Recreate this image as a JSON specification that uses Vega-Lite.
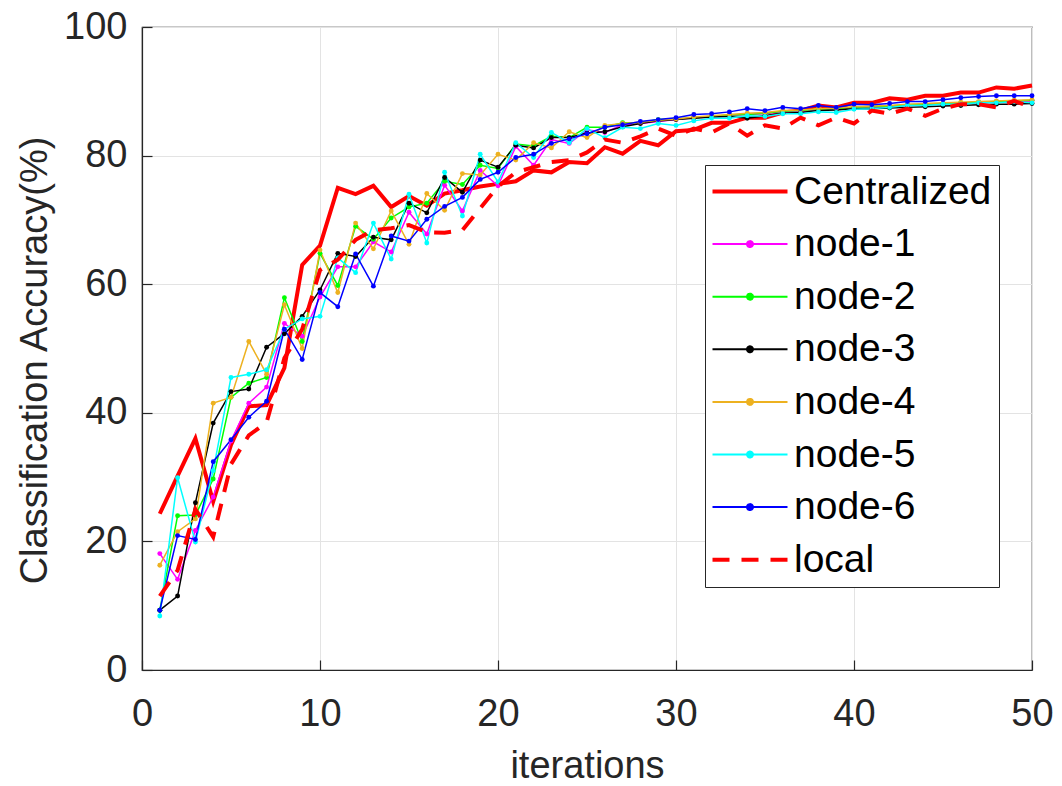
{
  "$schema": "https://vega.github.io/schema/vega-lite/v6.json",
  "width": 890,
  "height": 643,
  "autosize": "none",
  "padding": {"left": 142, "top": 27, "right": 30, "bottom": 116},
  "background": "white",
  "data": {"values": [
    {"it":1,"Centralized":24.3,"node-1":18.1,"node-2":9.3,"node-3":9.3,"node-4":16.3,"node-5":8.4,"node-6":9.3,"local":11.5},
    {"it":2,"Centralized":30.2,"node-1":14.1,"node-2":24,"node-3":11.5,"node-4":21.5,"node-5":29.9,"node-6":20.9,"local":15.5},
    {"it":3,"Centralized":36,"node-1":21.7,"node-2":24.1,"node-3":26,"node-4":23.5,"node-5":19.9,"node-6":20.3,"local":25},
    {"it":4,"Centralized":26.2,"node-1":26.9,"node-2":29.7,"node-3":38.4,"node-4":41.5,"node-5":31,"node-6":32.4,"local":20.7},
    {"it":5,"Centralized":35,"node-1":35.6,"node-2":42.4,"node-3":43.3,"node-4":42.4,"node-5":45.5,"node-6":35.8,"local":32},
    {"it":6,"Centralized":41,"node-1":41.5,"node-2":44.6,"node-3":43.7,"node-4":51.1,"node-5":46,"node-6":39.3,"local":36.5},
    {"it":7,"Centralized":41.2,"node-1":44,"node-2":45.5,"node-3":50.2,"node-4":46,"node-5":46.7,"node-6":41.8,"local":38.5},
    {"it":8,"Centralized":47,"node-1":53.9,"node-2":57.9,"node-3":52.3,"node-4":56.8,"node-5":53,"node-6":53,"local":48.5},
    {"it":9,"Centralized":63,"node-1":51.9,"node-2":51.1,"node-3":55,"node-4":50,"node-5":54.6,"node-6":48.3,"local":53},
    {"it":10,"Centralized":66,"node-1":58,"node-2":64.8,"node-3":59.1,"node-4":65.3,"node-5":55,"node-6":58.7,"local":62.2},
    {"it":11,"Centralized":75,"node-1":62.7,"node-2":59.8,"node-3":64.8,"node-4":58.7,"node-5":64.1,"node-6":56.5,"local":63.8},
    {"it":12,"Centralized":74,"node-1":62.7,"node-2":69,"node-3":64.3,"node-4":69.5,"node-5":61.8,"node-6":64.7,"local":66.9},
    {"it":13,"Centralized":75.3,"node-1":66.6,"node-2":67,"node-3":67.3,"node-4":65.5,"node-5":69.5,"node-6":59.7,"local":68.4},
    {"it":14,"Centralized":72,"node-1":65,"node-2":70.3,"node-3":66.9,"node-4":71.4,"node-5":63.9,"node-6":67.5,"local":68.7},
    {"it":15,"Centralized":73.7,"node-1":71.2,"node-2":72,"node-3":72.6,"node-4":66.2,"node-5":74,"node-6":66.7,"local":69.2},
    {"it":16,"Centralized":72.2,"node-1":67.8,"node-2":72.6,"node-3":71.1,"node-4":74.1,"node-5":66.4,"node-6":70.1,"local":68.1},
    {"it":17,"Centralized":74.1,"node-1":75.4,"node-2":76,"node-3":76.6,"node-4":71.5,"node-5":77.4,"node-6":72.1,"local":68},
    {"it":18,"Centralized":74.6,"node-1":71.4,"node-2":75.5,"node-3":74.3,"node-4":77.2,"node-5":70.6,"node-6":73.5,"local":68.4},
    {"it":19,"Centralized":75.2,"node-1":77.7,"node-2":78.5,"node-3":79.3,"node-4":77,"node-5":80.2,"node-6":76.3,"local":71.8},
    {"it":20,"Centralized":75.6,"node-1":75.3,"node-2":78,"node-3":78.2,"node-4":80.2,"node-5":75.9,"node-6":77.4,"local":75.2},
    {"it":21,"Centralized":76,"node-1":81.4,"node-2":81.8,"node-3":81.6,"node-4":79.3,"node-5":82,"node-6":79.7,"local":77.4},
    {"it":22,"Centralized":77.7,"node-1":78.5,"node-2":81.5,"node-3":81.2,"node-4":82,"node-5":79.7,"node-6":80.2,"local":78.2},
    {"it":23,"Centralized":77.4,"node-1":82.5,"node-2":83,"node-3":82.8,"node-4":81.2,"node-5":83.6,"node-6":81.9,"local":79},
    {"it":24,"Centralized":79,"node-1":81.9,"node-2":82.8,"node-3":82.8,"node-4":83.7,"node-5":82,"node-6":82.6,"local":79.3},
    {"it":25,"Centralized":78.8,"node-1":84,"node-2":84.4,"node-3":83.5,"node-4":82.8,"node-5":84.2,"node-6":83.4,"local":80.5},
    {"it":26,"Centralized":81.3,"node-1":83.6,"node-2":84.4,"node-3":83.7,"node-4":84.7,"node-5":82.8,"node-6":84.4,"local":82.5},
    {"it":27,"Centralized":80.3,"node-1":84.8,"node-2":85.1,"node-3":84.5,"node-4":85,"node-5":84.4,"node-6":84.8,"local":82},
    {"it":28,"Centralized":82.3,"node-1":85,"node-2":85.1,"node-3":85,"node-4":85.2,"node-5":84.2,"node-6":85.3,"local":83},
    {"it":29,"Centralized":81.6,"node-1":85.3,"node-2":85.6,"node-3":85.4,"node-4":85.5,"node-5":85,"node-6":85.6,"local":84.2},
    {"it":30,"Centralized":83.8,"node-1":85.6,"node-2":85.7,"node-3":85.6,"node-4":85.7,"node-5":84.7,"node-6":85.9,"local":83.1},
    {"it":31,"Centralized":84,"node-1":85.9,"node-2":85.9,"node-3":85.8,"node-4":86,"node-5":85.4,"node-6":86.4,"local":84.2},
    {"it":32,"Centralized":85.1,"node-1":86,"node-2":86.1,"node-3":86,"node-4":86.2,"node-5":85.8,"node-6":86.5,"local":83.6},
    {"it":33,"Centralized":85.1,"node-1":86.2,"node-2":86.3,"node-3":86.1,"node-4":86.4,"node-5":85.8,"node-6":86.8,"local":85},
    {"it":34,"Centralized":85.9,"node-1":86.4,"node-2":86.4,"node-3":85.8,"node-4":86.6,"node-5":86.2,"node-6":87.3,"local":83.1},
    {"it":35,"Centralized":85.9,"node-1":86.5,"node-2":86.6,"node-3":86.2,"node-4":86.7,"node-5":86.1,"node-6":87,"local":84.7},
    {"it":36,"Centralized":86.7,"node-1":86.8,"node-2":86.9,"node-3":86.6,"node-4":87,"node-5":86.5,"node-6":87.5,"local":84.2},
    {"it":37,"Centralized":87,"node-1":86.9,"node-2":87,"node-3":86.7,"node-4":87.1,"node-5":86.5,"node-6":87.3,"local":85.9},
    {"it":38,"Centralized":87.8,"node-1":87.1,"node-2":87.2,"node-3":87,"node-4":87.3,"node-5":86.8,"node-6":87.8,"local":84.7},
    {"it":39,"Centralized":87.5,"node-1":87.2,"node-2":87.3,"node-3":87.1,"node-4":87.4,"node-5":86.7,"node-6":87.5,"local":85.9},
    {"it":40,"Centralized":88.2,"node-1":87.4,"node-2":87.5,"node-3":87.3,"node-4":87.6,"node-5":87.2,"node-6":88,"local":85},
    {"it":41,"Centralized":88.2,"node-1":87.5,"node-2":87.6,"node-3":87.3,"node-4":87.7,"node-5":87.3,"node-6":87.9,"local":87},
    {"it":42,"Centralized":88.9,"node-1":87.6,"node-2":87.7,"node-3":87.4,"node-4":87.8,"node-5":87.5,"node-6":88.1,"local":86.5},
    {"it":43,"Centralized":88.7,"node-1":87.8,"node-2":87.9,"node-3":87.5,"node-4":88,"node-5":87.8,"node-6":88.4,"local":87.3},
    {"it":44,"Centralized":89.3,"node-1":87.9,"node-2":88,"node-3":87.6,"node-4":88.1,"node-5":87.8,"node-6":88.4,"local":86.2},
    {"it":45,"Centralized":89.3,"node-1":88,"node-2":88.1,"node-3":87.7,"node-4":88.2,"node-5":88,"node-6":88.7,"local":87.3},
    {"it":46,"Centralized":89.8,"node-1":88.1,"node-2":88.2,"node-3":87.8,"node-4":88.3,"node-5":88,"node-6":89,"local":88},
    {"it":47,"Centralized":89.8,"node-1":88.2,"node-2":88.3,"node-3":87.9,"node-4":88.4,"node-5":88.2,"node-6":89.2,"local":88},
    {"it":48,"Centralized":90.6,"node-1":88.3,"node-2":88.4,"node-3":88,"node-4":88.5,"node-5":88.2,"node-6":89.3,"local":87.5},
    {"it":49,"Centralized":90.4,"node-1":88.4,"node-2":88.5,"node-3":88,"node-4":88.6,"node-5":88.4,"node-6":89.3,"local":88.5},
    {"it":50,"Centralized":90.9,"node-1":88.5,"node-2":88.6,"node-3":88.1,"node-4":88.7,"node-5":88.2,"node-6":89.3,"local":87.5}
  ]},
  "transform": [
    {"fold": ["Centralized", "node-1", "node-2", "node-3", "node-4", "node-5", "node-6", "local"], "as": ["series", "acc"]}
  ],
  "encoding": {
    "x": {
      "field": "it", "type": "quantitative",
      "scale": {"domain": [0, 50], "nice": false, "zero": false},
      "axis": {"values": [0, 10, 20, 30, 40, 50], "title": "iterations", "titleY": 107, "titleBaseline": "alphabetic", "labelPadding": 65, "labelBaseline": "alphabetic", "labelFlush": false, "labelAlign": "center", "ticks": true, "tickSize": -10}
    },
    "y": {
      "field": "acc", "type": "quantitative",
      "scale": {"domain": [0, 100], "nice": false},
      "axis": {"values": [0, 20, 40, 60, 80, 100], "title": "Classification Accuracy(%)", "titleX": -96, "titleY": 333, "titleBaseline": "alphabetic", "titleAlign": "center", "titleAngle": -90, "labelPadding": 25, "labelBaseline": "middle", "labelFlush": false, "ticks": true, "tickSize": -10}
    },
    "color": {
      "field": "series", "type": "nominal",
      "scale": {
        "domain": ["Centralized", "node-1", "node-2", "node-3", "node-4", "node-5", "node-6", "local"],
        "range": ["#ff0000", "#ff00ff", "#00ff00", "#000000", "#edb120", "#00ffff", "#0000ff", "#ff0000"]
      },
      "legend": {
        "title": null,
        "orient": "none",
        "legendX": 563,
        "legendY": 138,
        "padding": 7,
        "strokeColor": "#262626",
        "fillColor": "white",
        "symbolSize": 2116,
        "rowPadding": 12.6,
        "labelOffset": 43,
        "labelFont": "Liberation Sans",
        "labelFontSize": 39,
        "labelColor": "#000000",
        "labelLimit": 400,
        "encode": {
          "symbols": {
            "update": {
              "shape": {"signal": "(datum.value === 'Centralized' || datum.value === 'local') ? 'M-0.826,0L2.435,0' : 'M-0.826,0L2.435,0M0.674,0A0.13,0.13 0 1,0 0.934,0A0.13,0.13 0 1,0 0.674,0Z'"},
              "stroke": {"scale": "color", "field": "value"},
              "fill": {"scale": "color", "field": "value"},
              "strokeWidth": {"signal": "(datum.value === 'Centralized' || datum.value === 'local') ? 4 : 2"},
              "strokeDash": {"signal": "datum.value === 'local' ? [17, 12] : [1, 0]"},
              "opacity": {"value": 1},
              "fillOpacity": {"value": 1},
              "strokeOpacity": {"value": 1}
            }
          }
        }
      }
    }
  },
  "layer": [
    {
      "transform": [{"filter": "datum.series === 'Centralized'"}],
      "mark": {"type": "line", "strokeWidth": 4, "strokeJoin": "miter", "strokeCap": "butt"}
    },
    {
      "transform": [{"filter": "datum.series !== 'Centralized' && datum.series !== 'local'"}],
      "mark": {"type": "line", "strokeWidth": 1.5}
    },
    {
      "transform": [{"filter": "datum.series !== 'Centralized' && datum.series !== 'local'"}],
      "mark": {"type": "point", "filled": true, "size": 24, "opacity": 1, "shape": "circle"}
    },
    {
      "transform": [{"filter": "datum.series === 'local'"}],
      "mark": {"type": "line", "strokeWidth": 4, "strokeDash": [17, 12], "strokeCap": "butt"}
    }
  ],
  "config": {
    "font": "Liberation Sans",
    "view": {"stroke": "#262626", "strokeWidth": 1.2},
    "axis": {
      "grid": true,
      "gridColor": "#e3e3e3",
      "gridWidth": 1,
      "domainColor": "#262626",
      "domainWidth": 1.2,
      "tickColor": "#262626",
      "tickWidth": 1.2,
      "labelFont": "Liberation Sans",
      "labelFontSize": 38,
      "labelColor": "#262626",
      "titleFont": "Liberation Sans",
      "titleFontSize": 38,
      "titleFontWeight": "normal",
      "titleColor": "#262626"
    }
  }
}
